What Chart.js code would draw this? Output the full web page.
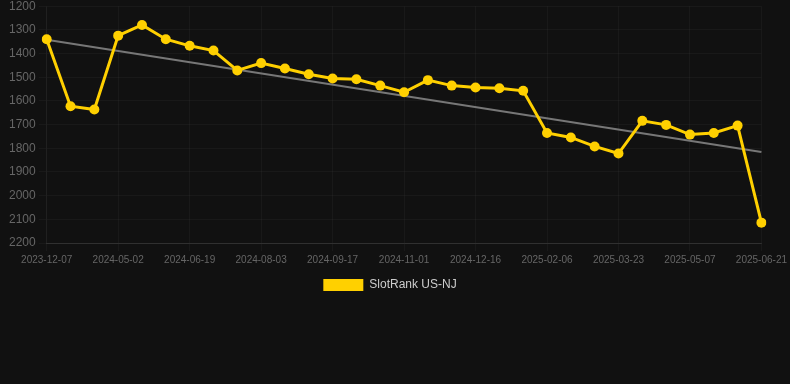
<!DOCTYPE html>
<html>
<head>
<meta charset="utf-8">
<script src="https://cdn.jsdelivr.net/npm/chart.js@4"></script>
<style>
    html, body { margin: 0; padding: 0; background: #111111; }
    #wrap { position: relative; width: 790px; height: 301px; }
</style>
</head>
<body>
<div id="wrap"><canvas id="rankChart"></canvas></div>
<script>
// Sanalar (kategoriya o'qi)
const dates = [
    '2023-12-07', '2024-04-02', '2024-04-17', '2024-05-02', '2024-05-18', '2024-06-03',
    '2024-06-19', '2024-07-04', '2024-07-19', '2024-08-03', '2024-08-18', '2024-09-02',
    '2024-09-17', '2024-10-02', '2024-10-17', '2024-11-01', '2024-11-16', '2024-12-01',
    '2024-12-16', '2024-12-31', '2025-01-15', '2025-02-06', '2025-02-21', '2025-03-08',
    '2025-03-23', '2025-04-07', '2025-04-22', '2025-05-07', '2025-05-22', '2025-06-06',
    '2025-06-21'
];

// SlotRank qiymatlari
const slotRank = [
    1339, 1622, 1636, 1324, 1279, 1339, 1367, 1387, 1471, 1440,
    1463, 1487, 1505, 1508, 1535, 1563, 1512, 1535, 1543, 1546,
    1557, 1735, 1754, 1792, 1822, 1684, 1701, 1742, 1735, 1704,
    2114
];

// Trend chizig'i (faqat boshi va oxiri)
const trend = [1341, null, null, null, null, null, null, null, null, null,
    null, null, null, null, null, null, null, null, null, null,
    null, null, null, null, null, null, null, null, null, null,
    1816];

const yMin = 1200;
const yMax = 2200;
const yStep = 100;

const ctx = document.getElementById('rankChart').getContext('2d');
const rankChart = new Chart(ctx, {
    type: 'line',
    data: {
        labels: dates,
        datasets: [{
            label: 'SlotRank US-NJ',
            data: slotRank,
            borderColor: '#ffd000',
            backgroundColor: '#ffd000',
            borderWidth: 3,
            pointRadius: 5,
            pointBackgroundColor: '#ffd000',
            pointBorderWidth: 0,
            tension: 0,
            order: 1
        }, {
            label: 'trend',
            data: trend,
            borderColor: '#777777',
            borderWidth: 2,
            pointRadius: 0,
            spanGaps: true,
            order: 2
        }]
    },
    options: {
        responsive: true,
        maintainAspectRatio: false,
        animation: false,
        layout: {
            padding: { top: 0, left: 6, right: 16 }
        },
        plugins: {
            legend: {
                position: 'bottom',
                labels: {
                    color: '#cccccc',
                    boxWidth: 40,
                    boxHeight: 12,
                    padding: 10,
                    font: { family: 'Liberation Sans, Arial', size: 12 },
                    generateLabels: chart => Chart.defaults.plugins.legend.labels
                        .generateLabels(chart)
                        .map(item => Object.assign(item, { lineWidth: 0 })),
                    filter: item => item.text !== 'trend'
                }
            },
            tooltip: { enabled: false }
        },
        scales: {
            x: {
                grid: { color: 'rgba(255, 255, 255, 0.035)' },
                border: { color: 'rgba(255, 255, 255, 0.1)' },
                ticks: {
                    color: '#666666',
                    autoSkip: false,
                    maxRotation: 0,
                    font: { family: 'Liberation Sans, Arial', size: 10 },
                    callback: function(value, index) {
                        return index % 3 === 0 ? this.getLabelForValue(value) : null;
                    }
                }
            },
            y: {
                reverse: true,
                min: yMin,
                max: yMax,
                grid: { color: 'rgba(255, 255, 255, 0.035)' },
                border: { color: 'rgba(255, 255, 255, 0.035)' },
                ticks: {
                    stepSize: yStep,
                    color: '#666666',
                    font: { family: 'Liberation Sans, Arial', size: 12, lineHeight: 0.55 },
                    callback: value => String(value)
                }
            }
        }
    }
});
</script>
</body>
</html>
